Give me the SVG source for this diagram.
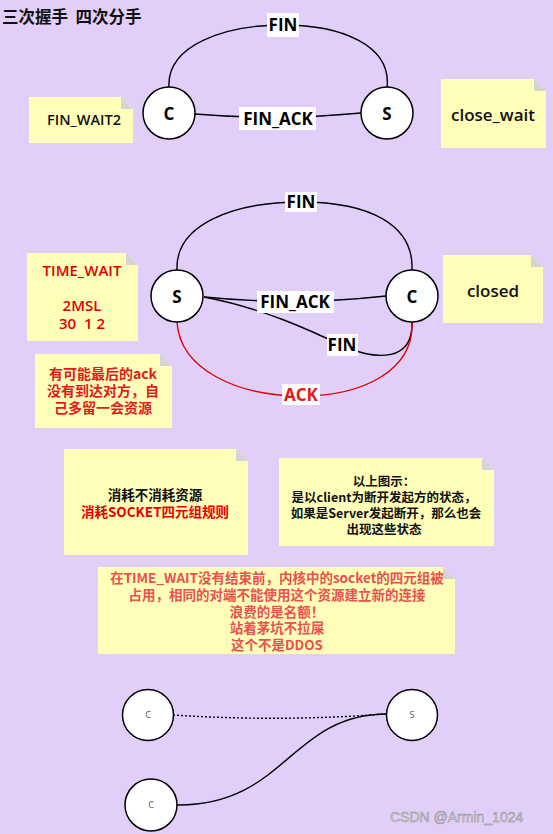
<svg xmlns="http://www.w3.org/2000/svg" width="553" height="834" viewBox="0 0 553 834">
<style>
.t{font-family:"Open Sans","Noto Sans CJK SC",sans-serif;text-anchor:middle}
.cjk{font-family:"Noto Sans CJK SC","Open Sans",sans-serif;text-anchor:middle}
.node{fill:#fff;stroke:#000;stroke-width:1.5}
.note{fill:#ffffb9}
.fold{fill:#d4d4d4}
.edge{fill:none;stroke:#000;stroke-width:1.4}
.red{fill:none;stroke:#e00000;stroke-width:1.4}
.lbg{fill:#fff}
.lbl{font-family:"Open Sans","Noto Sans CJK SC",sans-serif;font-weight:700;font-size:17px;text-anchor:middle}
</style>
<rect width="553" height="834" fill="#e2cff9"/>
<text x="2" y="23" font-family="Noto Sans CJK SC, sans-serif" font-weight="700" font-size="16.5" fill="#111" xml:space="preserve" style="white-space:pre">三次握手  四次分手</text>

<g id="connectors">
  <path class="edge" d="M169,88 C166,45 225,25 283,25 C341,25 392,45 387,88"/>
  <path class="edge" d="M195,114 Q278,121 361,113"/>
  <path class="edge" d="M177,270 C175,225 232,202 301,202 C370,202 414,225 412,270"/>
  <path class="edge" d="M204,297 Q295,306 386,296"/>
  <path class="edge" d="M204,297 C262,308 310,330 345,347 C377,360 413,362 412,322"/>
  <path class="red" d="M177,322 C180,370 238,396 301,396 C364,396 414,370 412,322"/>
  <path class="edge" d="M173,715 Q280,722 386,714" stroke-dasharray="2,2"/>
  <path class="edge" d="M177,805 C285,806 290,715 386,714"/>
  <g id="labels">
    <rect class="lbg" x="267" y="13" width="32" height="24"/>
    <text class="lbl" x="283" y="31">FIN</text>
    <rect class="lbg" x="239" y="107" width="77" height="23"/>
    <text class="lbl" x="278" y="125">FIN_ACK</text>
    <rect class="lbg" x="285" y="192" width="32" height="20"/>
    <text class="lbl" x="301" y="208">FIN</text>
    <rect class="lbg" x="257" y="291" width="77" height="22"/>
    <text class="lbl" x="295" y="308">FIN_ACK</text>
    <rect class="lbg" x="327" y="334" width="31" height="22"/>
    <text class="lbl" x="342" y="351">FIN</text>
    <rect class="lbg" x="282" y="384" width="38" height="21"/>
    <text class="lbl" x="301" y="401" fill="#e41a1a">ACK</text>
  </g>
</g>

<g id="C1"><circle class="node" cx="169" cy="113" r="26"/><text class="lbl" x="169" y="120">C</text></g>
<g id="S1"><circle class="node" cx="387" cy="113" r="26"/><text class="lbl" x="387" y="120">S</text></g>
<g id="S2"><circle class="node" cx="177" cy="296" r="26"/><text class="lbl" x="177" y="303">S</text></g>
<g id="C2"><circle class="node" cx="412" cy="296" r="26"/><text class="lbl" x="412" y="303">C</text></g>
<g id="C3"><circle class="node" cx="148" cy="715" r="25.5"/><text class="t" x="148" y="718" font-size="9" fill="#555">C</text></g>
<g id="S3"><circle class="node" cx="412" cy="715" r="25.5"/><text class="t" x="412" y="718" font-size="9" fill="#555">S</text></g>
<g id="C4"><circle class="node" cx="151" cy="805" r="26"/><text class="t" x="151" y="808" font-size="9" fill="#555">C</text></g>

<g id="note-finwait2">
  <path class="note" d="M29,97 H121 L133,109 V143 H29 Z"/><path class="fold" d="M121,97 L133,109 H121 Z"/>
  <text class="t" x="84" y="125" font-size="14.5" font-weight="600" fill="#111">FIN_WAIT2</text>
</g>
<g id="note-closewait">
  <path class="note" d="M441,79 H534 L546,91 V148 H441 Z"/><path class="fold" d="M534,79 L546,91 H534 Z"/>
  <text class="t" x="493" y="121" font-size="17" font-weight="600" fill="#111">close_wait</text>
</g>
<g id="note-timewait">
  <path class="note" d="M27,253 H126 L138,265 V341 H27 Z"/><path class="fold" d="M126,253 L138,265 H126 Z"/>
  <text class="t" font-size="15" font-weight="600" fill="#e00000" xml:space="preserve" style="white-space:pre"><tspan x="82" y="276">TIME_WAIT</tspan><tspan x="82" y="311">2MSL</tspan><tspan x="82" y="329">30  1 2</tspan></text>
</g>
<g id="note-closed">
  <path class="note" d="M443,255 H531 L543,267 V323 H443 Z"/><path class="fold" d="M531,255 L543,267 H531 Z"/>
  <text class="t" x="493" y="297" font-size="17" font-weight="600" fill="#111">closed</text>
</g>
<g id="note-ack">
  <path class="note" d="M35,354 H160 L172,366 V428 H35 Z"/><path class="fold" d="M160,354 L172,366 H160 Z"/>
  <text class="cjk" font-size="14" font-weight="700" fill="#e41a1a"><tspan x="103" y="379">有可能最后的ack</tspan><tspan x="103" y="396">没有到达对方，自</tspan><tspan x="103" y="413">己多留一会资源</tspan></text>
</g>
<g id="note-resource">
  <path class="note" d="M64,449 H236 L248,461 V555 H64 Z"/><path class="fold" d="M236,449 L248,461 H236 Z"/>
  <text class="cjk" x="155" y="500" font-size="13.5" font-weight="600" fill="#111">消耗不消耗资源</text>
  <text class="cjk" x="155" y="517" font-size="13.5" font-weight="700" fill="#e80000">消耗SOCKET四元组规则</text>
</g>
<g id="note-client">
  <path class="note" d="M279,458 H482 L494,470 V546 H279 Z"/><path class="fold" d="M482,458 L494,470 H482 Z"/>
  <text class="cjk" font-size="12.5" font-weight="700" fill="#111"><tspan x="384" y="486">以上图示：</tspan><tspan x="384" y="502">是以client为断开发起方的状态，</tspan><tspan x="386" y="518">如果是Server发起断开，那么也会</tspan><tspan x="384" y="534">出现这些状态</tspan></text>
</g>
<g id="note-socket">
  <path class="note" d="M98,567 H443 L455,579 V654 H98 Z"/><path class="fold" d="M443,567 L455,579 H443 Z"/>
  <text class="cjk" font-size="13.5" font-weight="700" fill="#ec5050"><tspan x="277" y="583">在TIME_WAIT没有结束前，内核中的socket的四元组被</tspan><tspan x="277" y="600">占用，相同的对端不能使用这个资源建立新的连接</tspan><tspan x="277" y="617">浪费的是名额！</tspan><tspan x="277" y="633">站着茅坑不拉屎</tspan><tspan x="277" y="650">这个不是DDOS</tspan></text>
</g>

<text x="390" y="822" font-family="Liberation Sans, Arial, sans-serif" font-size="14" fill="#d4d4d4" stroke="#8f8f8f" stroke-width="0.5">CSDN @Armin_1024</text>
</svg>
